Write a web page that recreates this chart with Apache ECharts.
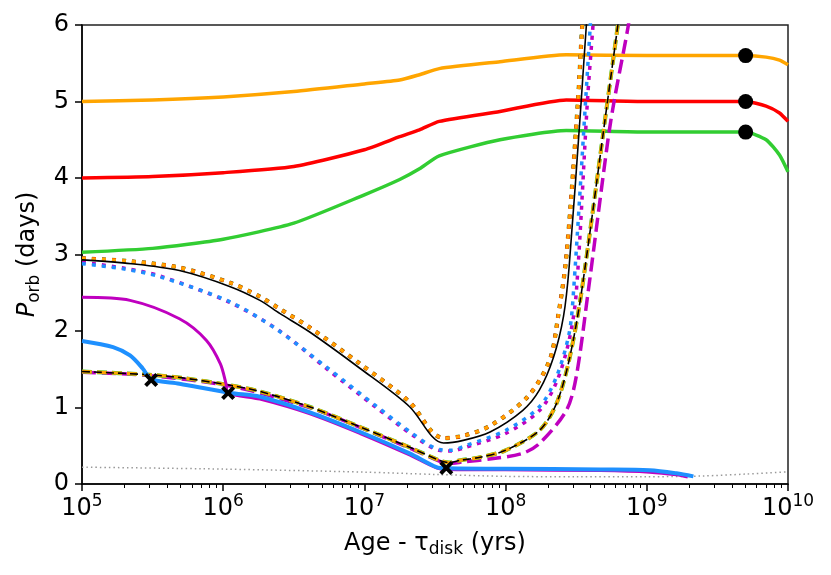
<!DOCTYPE html>
<html>
<head>
<meta charset="utf-8">
<script src="https://cdn.jsdelivr.net/npm/echarts@6/dist/echarts.min.js"></script>
<style>html,body{margin:0;padding:0;background:#fff}#c{width:831px;height:575px}</style>
</head>
<body>
<div id="c"></div>
<script>
// ---- data: [log10(age), P_orb days] ----
const orangeSolid = [[5,5.00],[5.5,5.02],[6,5.06],[6.5,5.13],[7,5.23],[7.25,5.28],[7.39,5.35],[7.53,5.43],[7.96,5.52],[8.43,5.61],[9,5.60],[9.7,5.60],[9.845,5.58],[9.94,5.54],[10,5.48]];
const redSolid = [[5,4.00],[5.5,4.02],[6,4.07],[6.5,4.15],[7,4.37],[7.25,4.54],[7.39,4.63],[7.53,4.74],[7.96,4.87],[8.43,5.02],[9,5.00],[9.7,5.00],[9.845,4.94],[9.94,4.85],[10,4.74]];
const greenSolid = [[5,3.03],[5.5,3.08],[6,3.20],[6.5,3.41],[7,3.78],[7.25,3.98],[7.39,4.12],[7.53,4.29],[7.96,4.50],[8.43,4.62],[9,4.60],[9.7,4.60],[9.845,4.50],[9.94,4.30],[10,4.08]];

const upperBlack = [[5,2.93],[5.35,2.88],[5.69,2.79],[6.05,2.58],[6.26,2.40],[6.40,2.23],[6.61,1.99],[6.97,1.51],[7.32,1.01],[7.48,0.62],[7.56,0.535],[7.70,0.57],[7.89,0.68],[8.12,0.96],[8.24,1.23],[8.34,1.66],[8.41,2.19],[8.45,2.84],[8.536,5.02],[8.572,6.0],[8.60,6.6]];
const upperWarmDotted = [[5,2.95],[5.35,2.91],[5.69,2.83],[6.05,2.63],[6.26,2.45],[6.40,2.29],[6.61,2.05],[6.97,1.57],[7.32,1.07],[7.48,0.68],[7.56,0.60],[7.70,0.63],[7.89,0.76],[8.156,1.14],[8.312,1.62],[8.371,2.18],[8.43,2.97],[8.513,5.02],[8.543,6.0],[8.57,6.6]];
const upperBlueDotted = [[5,2.88],[5.30,2.81],[5.55,2.71],[6.05,2.38],[6.38,2.02],[6.73,1.53],[7.09,1.01],[7.34,0.66],[7.53,0.45],[7.62,0.44],[7.70,0.49],[8.00,0.70],[8.24,1.01],[8.36,1.40],[8.45,1.97],[8.48,2.49],[8.567,5.02],[8.60,6.0],[8.62,6.6]];
const upperMagentaDotted = [[5,2.90],[5.30,2.82],[5.55,2.72],[6.05,2.37],[6.40,2.00],[6.73,1.51],[7.09,0.99],[7.34,0.64],[7.53,0.44],[7.62,0.43],[7.70,0.47],[8.00,0.66],[8.24,0.96],[8.36,1.33],[8.45,1.88],[8.50,2.49],[8.58,5.02],[8.619,6.0],[8.64,6.6]];

const lowerWarmDashed = [[5,1.47],[5.46,1.43],[5.70,1.39],[6.05,1.29],[6.26,1.21],[6.61,1.01],[6.97,0.745],[7.32,0.48],[7.53,0.31],[7.60,0.28],[7.68,0.31],[7.82,0.35],[8.00,0.44],[8.24,0.70],[8.36,1.05],[8.45,1.62],[8.536,2.49],[8.723,5.02],[8.795,6.0],[8.83,6.5]];
const lowerMagentaDashed = [[5,1.46],[5.46,1.42],[6.05,1.28],[6.61,1.00],[6.97,0.74],[7.32,0.47],[7.53,0.30],[7.60,0.27],[7.70,0.29],[7.90,0.33],[8.12,0.40],[8.24,0.53],[8.43,0.96],[8.50,1.40],[8.583,2.49],[8.725,4.50],[8.77,5.02],[8.866,5.96],[8.90,6.4]];

const magentaSolid = [[5,2.44],[5.34,2.40],[5.69,2.16],[5.88,1.88],[5.98,1.57],[6.02,1.31],[6.035,1.19],[6.26,1.11],[6.61,0.92],[6.97,0.66],[7.32,0.38],[7.51,0.21],[7.58,0.19],[8.0,0.185],[8.67,0.175],[9.02,0.155],[9.21,0.12],[9.29,0.09]];
const blueSolid = [[5,1.87],[5.22,1.79],[5.34,1.68],[5.43,1.51],[5.49,1.37],[5.69,1.31],[6.05,1.19],[6.26,1.14],[6.61,0.94],[6.97,0.68],[7.32,0.40],[7.51,0.22],[7.58,0.205],[8.0,0.20],[8.67,0.19],[9.02,0.18],[9.21,0.14],[9.33,0.10]];

const grayDotted = [[5,0.22],[6,0.195],[7,0.155],[7.5,0.125],[8,0.10],[8.5,0.095],[9,0.095],[9.4,0.105],[9.7,0.13],[10,0.16]];

const crossMarks = [[5.49,1.36],[6.035,1.19],[7.58,0.21]];
const finalDots = [[9.7,5.60],[9.7,5.00],[9.7,4.60]];

const xMajorTicks = [1e5,1e6,1e7,1e8,1e9,1e10];
const xMinorTicks = [];
for (let k = 5; k < 10; k++) for (let m = 2; m <= 9; m++) xMinorTicks.push(m * Math.pow(10, k));

// ---- build ----
const FONT = 'DejaVu Sans';
const toAge = arr => arr.map(p => [Math.pow(10, p[0]), p[1]]);

function line(data, color, width, type, extra) {
  return Object.assign({
    type: 'line', data: toAge(data), showSymbol: false, symbol: 'none',
    smooth: 0.3, clip: true, silent: true,
    lineStyle: { color: color, width: width, type: type, cap: 'butt', join: 'round' }
  }, extra || {});
}

const C = { orange: '#FFA500', red: '#FF0000', green: '#32CD32', blue: '#1E90FF', magenta: '#BF00BF', gray: '#999999' };

const series = [
  line(grayDotted, C.gray, 1.5, [1.5, 3]),
  line(greenSolid, C.green, 3.5, 'solid', { smooth: 0.2 }),
  line(redSolid, C.red, 3.5, 'solid', { smooth: 0.2 }),
  line(orangeSolid, C.orange, 3.5, 'solid', { smooth: 0.2 }),
  line(lowerMagentaDashed, C.magenta, 3.5, [14, 6]),
  line(lowerWarmDashed, C.green, 4.0, [10, 5]),
  line(lowerWarmDashed, C.orange, 3.4, [10, 5]),
  line(lowerWarmDashed, '#000', 1.6, [8, 4]),
  line(upperMagentaDotted, C.magenta, 3.5, [4, 6]),
  line(upperBlueDotted, C.blue, 3.5, [4, 6]),
  line(upperWarmDotted, C.green, 4.3, [4, 6]),
  line(upperWarmDotted, C.red, 3.8, [4, 6]),
  line(upperWarmDotted, C.orange, 3.2, [4, 6]),
  line(upperBlack, '#000', 1.6, 'solid'),
  line(magentaSolid, C.magenta, 3.0, 'solid'),
  line(blueSolid, C.blue, 4.0, 'solid'),
  {
    type: 'scatter', data: toAge(crossMarks), silent: true,
    symbol: 'path://M0,2 L2,0 L5,3 L8,0 L10,2 L7,5 L10,8 L8,10 L5,7 L2,10 L0,8 L3,5 Z',
    symbolSize: 14, itemStyle: { color: '#000', opacity: 1 }, z: 5
  },
  {
    type: 'scatter', data: toAge(finalDots), silent: true,
    symbol: 'circle', symbolSize: 15, itemStyle: { color: '#000', opacity: 1 }, z: 5
  }
];

const chart = echarts.init(document.getElementById('c'), null, { renderer: 'canvas' });
chart.setOption({
  animation: false,
  backgroundColor: '#fff',
  grid: { left: 82, right: 43, top: 25, bottom: 91, show: true, borderColor: '#222', borderWidth: 1.5, backgroundColor: 'transparent' },
  xAxis: [{
    type: 'log', logBase: 10, min: 1e5, max: 1e10,
    axisLine: { lineStyle: { color: '#000', width: 1.5 } },
    axisTick: { length: 7, lineStyle: { color: '#000', width: 1.5 }, customValues: xMajorTicks },
    splitLine: { show: false },
    axisLabel: {
      customValues: xMajorTicks, margin: 9,
      formatter: v => '{b|10}{s|' + Math.round(Math.log10(v)) + '}',
      rich: {
        b: { fontSize: 24, fontFamily: FONT, color: '#000', lineHeight: 28, verticalAlign: 'bottom' },
        s: { fontSize: 17, fontFamily: FONT, color: '#000', lineHeight: 17, verticalAlign: 'top' }
      }
    },
    name: '{n|Age - τ}{sub|disk}{n| (yrs)}', nameLocation: 'middle', nameGap: 46,
    nameTextStyle: {
      rich: {
        n: { fontSize: 24, fontFamily: FONT, color: '#000', lineHeight: 28 },
        sub: { fontSize: 17, fontFamily: FONT, color: '#000', lineHeight: 17, verticalAlign: 'bottom' }
      }
    }
  }, {
    type: 'log', logBase: 10, min: 1e5, max: 1e10, position: 'bottom',
    axisLine: { show: false },
    axisTick: { length: 4, lineStyle: { color: '#000', width: 1 }, customValues: xMinorTicks },
    axisLabel: { show: false }, splitLine: { show: false }
  }],
  yAxis: {
    type: 'value', min: 0, max: 6, interval: 1,
    axisLine: { show: true, lineStyle: { color: '#000', width: 1.5 } },
    axisTick: { show: true, length: 7, lineStyle: { color: '#000', width: 1.5 } },
    splitLine: { show: false },
    axisLabel: { fontSize: 24, fontFamily: FONT, color: '#000', margin: 13 },
    name: '{p|P}{sub|orb}{n| (days)}', nameLocation: 'middle', nameGap: 39, nameRotate: 90,
    nameTextStyle: {
      rich: {
        p: { fontSize: 24, fontFamily: FONT, fontStyle: 'italic', color: '#000', lineHeight: 30 },
        n: { fontSize: 24, fontFamily: FONT, color: '#000', lineHeight: 30 },
        sub: { fontSize: 17, fontFamily: FONT, color: '#000', lineHeight: 17, verticalAlign: 'bottom' }
      }
    }
  },
  series: series
});
</script>
</body>
</html>
